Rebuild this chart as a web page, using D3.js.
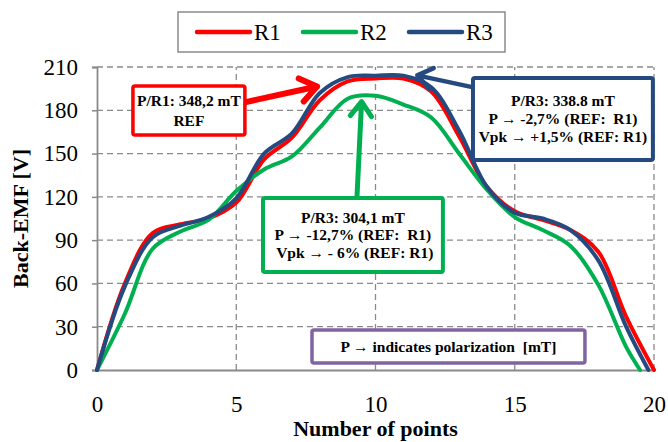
<!DOCTYPE html>
<html>
<head>
<meta charset="utf-8">
<script src="https://cdn.jsdelivr.net/npm/d3@7"></script>
<style>
  body { margin: 0; background: #fff; }
  svg { display: block; font-family: 'Liberation Serif', 'Times New Roman', serif; }
</style>
</head>
<body>
<div id="chart"></div>
<script>
// series data
const seriesNames = ['R1', 'R2', 'R3'];
const xR1 = [0, 1, 2, 3, 4, 5, 6, 7, 8, 9, 10, 11, 12, 13, 14, 15, 16, 17, 18, 19, 20];
const yR1 = [0, 60, 95, 101, 105, 116, 146, 161, 187, 200, 202, 202, 193, 162, 127, 110, 104, 97, 82, 37, 0];
const xR2 = [0, 1, 2, 3, 4, 5, 6, 7, 8, 9, 10, 11, 12, 13, 14, 15, 16, 17, 18, 19, 19.5];
const yR2 = [0, 39, 84, 96, 104, 124, 139, 148, 168, 188, 190, 184, 175, 150, 125, 106, 97, 86, 59, 16, 0];
const xR3 = [0, 1, 2, 3, 4, 5, 6, 7, 8, 9, 10, 11, 12, 13, 14, 15, 16, 17, 18, 19, 19.8];
const yR3 = [0, 58, 92, 100, 106, 119, 150, 164, 192, 203, 204, 204, 196, 166, 127, 109, 105, 97, 76, 30, 0];

const xTicks = [0, 5, 10, 15, 20];
const yTicks = [0, 30, 60, 90, 120, 150, 180, 210];

// annotation texts
const noteR1 = ['P/R1: 348,2 mT', 'REF'];
const noteR3 = ['P/R3: 338.8 mT', 'P \u2192 -2,7% (REF:  R1)', 'Vpk \u2192 +1,5% (REF: R1)'];
const noteR2 = ['P/R3: 304,1 mT', 'P \u2192 -12,7% (REF:  R1)', ' Vpk \u2192 - 6% (REF: R1)'];
const notePol = ['P \u2192 indicates polarization  [mT]'];

const colors = { R1: '#ff0000', R2: '#00b050', R3: '#254a80' };
const purple = '#8064a2';

const size = { width: 668, height: 442 };
const margin = { top: 67, right: 14, bottom: 72, left: 97 };

const svg = d3.select('#chart')
    .append('svg')
    .attr('width', size.width)
    .attr('height', size.height);

const xScale = d3.scaleLinear().domain([0, 20]).range([margin.left, size.width - margin.right]);
const yScale = d3.scaleLinear().domain([0, 210]).range([size.height - margin.bottom, margin.top]);

// grid lines
const grid = svg.append('g').attr('class', 'grid');
grid.selectAll('line.h')
    .data(yTicks.filter(d => d > 0))
    .join('line')
    .attr('x1', xScale(0)).attr('x2', xScale(20))
    .attr('y1', d => yScale(d)).attr('y2', d => yScale(d))
    .style('stroke', '#8a8a8a').style('stroke-width', 1.3).style('stroke-dasharray', '6,4');
grid.selectAll('line.v')
    .data(xTicks.filter(d => d > 0))
    .join('line')
    .attr('x1', d => xScale(d)).attr('x2', d => xScale(d))
    .attr('y1', yScale(0)).attr('y2', yScale(210))
    .style('stroke', '#8a8a8a').style('stroke-width', 1.3).style('stroke-dasharray', '6,4');

// axes
const xAxis = d3.axisBottom(xScale).tickValues(xTicks).tickSize(0).tickPadding(26);
const yAxis = d3.axisLeft(yScale).tickValues(yTicks).tickSize(5).tickPadding(14);
const gx = svg.append('g').attr('transform', 'translate(0,' + yScale(0) + ')').call(xAxis);
const gy = svg.append('g').attr('transform', 'translate(' + xScale(0) + ',0)').call(yAxis);
[gx, gy].forEach(g => {
    g.select('.domain').style('stroke', '#8a8a8a').style('stroke-width', 1.8);
    g.selectAll('.tick line').style('stroke', '#8a8a8a').style('stroke-width', 1.5);
    g.selectAll('.tick text')
        .style('font-family', "'Liberation Serif', serif")
        .style('font-size', '23px')
        .style('fill', '#000');
});

// axis titles
svg.append('text')
    .attr('transform', 'translate(28,' + yScale(105) + ') rotate(-90)')
    .attr('text-anchor', 'middle')
    .style('font-size', '22px').style('font-weight', 'bold')
    .text('Back-EMF [V]');
svg.append('text')
    .attr('x', xScale(10)).attr('y', 436)
    .attr('text-anchor', 'middle')
    .style('font-size', '22px').style('font-weight', 'bold')
    .text('Number of points');

// lines
const line = d3.line()
    .x(d => xScale(d[0]))
    .y(d => yScale(d[1]))
    .curve(d3.curveCatmullRom.alpha(0.5));
const seriesData = {
    R1: xR1.map((x, i) => [x, yR1[i]]),
    R2: xR2.map((x, i) => [x, yR2[i]]),
    R3: xR3.map((x, i) => [x, yR3[i]])
};
const lineContainer = svg.append('g').attr('class', 'lineContainer');
seriesNames.forEach(name => {
    lineContainer.append('path')
        .attr('d', line(seriesData[name]))
        .style('fill', 'none')
        .style('stroke', colors[name])
        .style('stroke-width', 4)
        .style('stroke-linejoin', 'round')
        .style('stroke-linecap', 'round');
});

// annotation helpers
function drawBox(x0, x1, yTop, yBottom, color, strokeWidth, lines, lineGap, fontSize) {
    const left = xScale(x0), right = xScale(x1);
    const top = yScale(yTop), bottom = yScale(yBottom);
    svg.append('rect')
        .attr('x', left).attr('y', top)
        .attr('width', right - left).attr('height', bottom - top)
        .attr('rx', 2).attr('ry', 2)
        .style('fill', '#fff')
        .style('stroke', color)
        .style('stroke-width', strokeWidth);
    const cy = (top + bottom) / 2;
    const startY = cy - (lines.length - 1) * lineGap / 2;
    lines.forEach((t, i) => {
        svg.append('text')
            .attr('x', (left + right) / 2)
            .attr('y', startY + i * lineGap)
            .attr('dy', '0.35em')
            .attr('text-anchor', 'middle')
            .style('font-size', fontSize + 'px')
            .style('font-weight', 'bold')
            .style('white-space', 'pre')
            .text(t);
    });
}

function drawArrow(from, to, color, strokeWidth, headLen) {
    const x1 = xScale(from[0]), y1 = yScale(from[1]);
    const x2 = xScale(to[0]), y2 = yScale(to[1]);
    const angle = Math.atan2(y2 - y1, x2 - x1);
    const spread = Math.PI / 5;
    const a1 = [x2 - headLen * Math.cos(angle - spread), y2 - headLen * Math.sin(angle - spread)];
    const a2 = [x2 - headLen * Math.cos(angle + spread), y2 - headLen * Math.sin(angle + spread)];
    svg.append('path')
        .attr('d', 'M' + x1 + ',' + y1 + 'L' + x2 + ',' + y2 +
            'M' + a1[0] + ',' + a1[1] + 'L' + x2 + ',' + y2 + 'L' + a2[0] + ',' + a2[1])
        .style('fill', 'none')
        .style('stroke', color)
        .style('stroke-width', strokeWidth)
        .style('stroke-linecap', 'round')
        .style('stroke-linejoin', 'round');
}

// arrows first, boxes on top
drawArrow([5.3, 185.5], [7.9, 196.5], colors.R1, 6, 20);
drawArrow([13.6, 195.5], [11.5, 204.2], colors.R3, 4.5, 18);
drawArrow([9.33, 118], [9.5, 186], colors.R2, 5, 18);

drawBox(1.29, 5.31, 196.8, 162.9, colors.R1, 3.5, noteR1, 20, 15.5);
drawBox(13.5, 19.96, 202.4, 145.5, colors.R3, 4, noteR3, 18, 15.5);
drawBox(5.96, 12.42, 119.2, 67.9, colors.R2, 4, noteR2, 17.5, 15.5);
drawBox(7.72, 17.52, 27.7, 4.85, purple, 3.5, notePol, 18, 15.5);

// legend
const legend = svg.append('g').attr('class', 'legend');
legend.append('rect')
    .attr('x', 178).attr('y', 12)
    .attr('width', 327).attr('height', 40)
    .style('fill', '#fff')
    .style('stroke', '#8a8a8a')
    .style('stroke-width', 1.5);
const legendX = d3.scalePoint().domain(seriesNames).range([197, 409]);
seriesNames.forEach(name => {
    const lx = legendX(name);
    legend.append('line')
        .attr('x1', lx).attr('x2', lx + 53)
        .attr('y1', 32).attr('y2', 32)
        .style('stroke', colors[name])
        .style('stroke-width', 4.5)
        .style('stroke-linecap', 'round');
    legend.append('text')
        .attr('x', lx + 57).attr('y', 32)
        .attr('dy', '0.35em')
        .style('font-size', '23px')
        .text(name);
});
</script>
</body>
</html>
